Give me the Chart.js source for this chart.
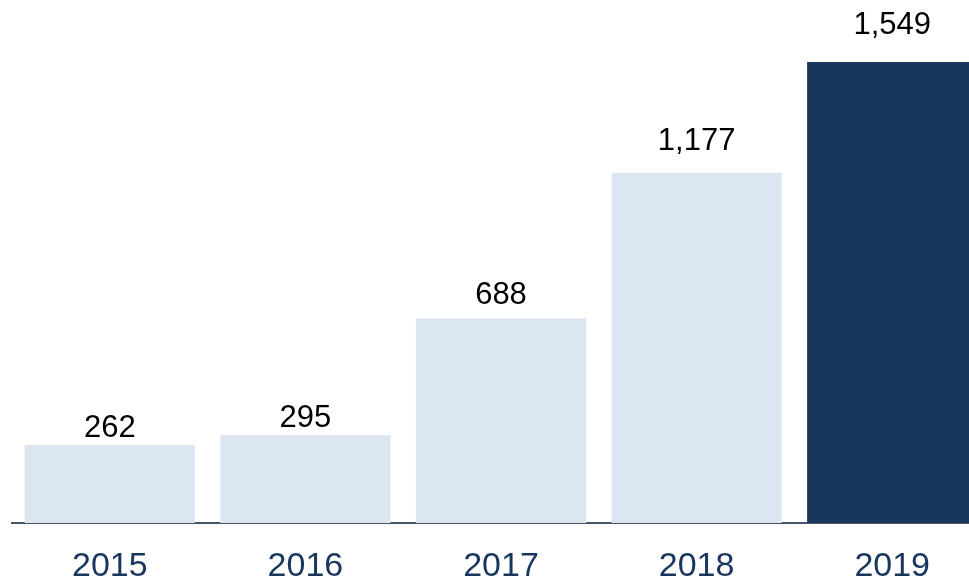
<!DOCTYPE html>
<html>
<head>
<meta charset="utf-8">
<script src="https://cdn.jsdelivr.net/npm/chart.js@4/dist/chart.umd.min.js"></script>
<style>
    html, body { margin: 0; padding: 0; background: #fff; overflow: hidden; }
    #wrap { width: 990px; height: 611px; }
</style>
</head>
<body>
<div id="wrap"><canvas id="yearChart"></canvas></div>
<script>
const years = ['2015', '2016', '2017', '2018', '2019'];
const totals = [262, 295, 688, 1177, 1549];
const barColors = ['#dce6f2', '#dce6f2', '#dce6f2', '#dce6f2', '#19365d'];

// valores acima de cada barra (a folga cresce um pouco com a altura da barra)
const valueLabels = {
    id: 'valueLabels',
    afterDatasetsDraw(chart) {
        const ctx = chart.ctx;
        const meta = chart.getDatasetMeta(0);
        ctx.save();
        ctx.font = '31px "Liberation Sans", Arial, sans-serif';
        ctx.fillStyle = '#000';
        ctx.textAlign = 'center';
        ctx.textBaseline = 'alphabetic';
        meta.data.forEach((bar, i) => {
            const h = bar.base - bar.y;
            ctx.fillText(totals[i].toLocaleString('en-US'), bar.x, bar.y - 4 - h * 0.052);
        });
        ctx.restore();
    }
};

new Chart(document.getElementById('yearChart'), {
    type: 'bar',
    data: {
        labels: years,
        datasets: [{
            data: totals,
            backgroundColor: barColors,
            borderWidth: 0,
            categoryPercentage: 1,
            barPercentage: 0.87
        }]
    },
    options: {
        responsive: true,
        maintainAspectRatio: false,
        animation: false,
        layout: { padding: { top: 62, left: 12, right: 0, bottom: 0 } },
        plugins: {
            legend: { display: false },
            tooltip: { enabled: false }
        },
        scales: {
            x: {
                grid: { display: false, drawTicks: false },
                border: { display: true, color: '#44546a', width: 2 },
                ticks: {
                    color: '#19365d',
                    padding: 27,
                    font: { family: '"Liberation Sans", Arial, sans-serif', size: 34, lineHeight: 1 }
                }
            },
            y: {
                display: false,
                min: 0,
                max: 1549
            }
        }
    },
    plugins: [valueLabels]
});
</script>
</body>
</html>
